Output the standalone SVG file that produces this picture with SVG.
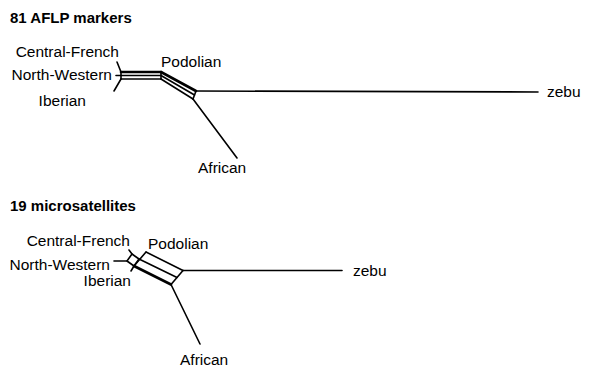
<svg xmlns="http://www.w3.org/2000/svg" width="609" height="369" viewBox="0 0 609 369">
<style>
text{font-family:"Liberation Sans",Arial,sans-serif;font-size:15.5px;fill:#000}
.title{font-weight:bold;font-size:15px}
.r{text-anchor:end}
.e{stroke:#000;stroke-width:1.6;fill:none;stroke-linecap:round;stroke-linejoin:round}
.t{stroke:#000;stroke-width:2.6;fill:none;stroke-linecap:round}
</style>
<rect width="609" height="369" fill="#fff"/>
<g id="title-aflp"><text class="title" x="10" y="23">81 AFLP markers</text></g>
<g id="title-micro"><text class="title" x="10" y="211">19 microsatellites</text></g>

<g id="connectors-aflp">
  <line class="e" x1="117" y1="62" x2="121" y2="72"/>
  <line class="e" x1="116" y1="75.5" x2="121" y2="75.5"/>
  <line class="e" x1="121" y1="79" x2="114" y2="91"/>
  <line class="e" x1="121" y1="72" x2="121" y2="79"/>
  <line class="t" x1="121" y1="72" x2="161" y2="72"/>
  <line class="e" x1="121" y1="75.5" x2="161" y2="75.5"/>
  <line class="e" x1="121" y1="79" x2="161" y2="79"/>
  <line class="e" x1="161" y1="72" x2="161" y2="79"/>
  <line class="t" x1="161" y1="72" x2="196" y2="91"/>
  <line class="e" x1="161" y1="75.5" x2="194.5" y2="95"/>
  <line class="e" x1="161" y1="79" x2="193" y2="99"/>
  <line class="e" x1="196" y1="91" x2="193" y2="99"/>
  <line class="e" x1="196" y1="91" x2="538" y2="92"/>
  <line class="e" x1="193" y1="99" x2="237" y2="158"/>
</g>

<g id="connectors-micro">
  <line class="e" x1="114" y1="261" x2="127" y2="261"/>
  <line class="e" x1="132" y1="254" x2="129" y2="250"/>
  <line class="e" x1="134" y1="266" x2="131" y2="271"/>
  <polygon class="e" points="127,261 132,254 139,259 134,266"/>
  <line class="e" x1="146" y1="252" x2="134" y2="266"/>
  <line class="e" x1="146" y1="252" x2="183" y2="270.5"/>
  <line class="e" x1="139" y1="259" x2="177" y2="277.5"/>
  <line class="t" x1="134" y1="266" x2="171" y2="284.5"/>
  <line class="e" x1="183" y1="270.5" x2="171" y2="284.5"/>
  <line class="e" x1="183" y1="270.5" x2="342" y2="270.5"/>
  <line class="e" x1="171" y1="284.5" x2="200" y2="344"/>
</g>

<g id="node-aflp-central-french"><text class="r" x="119" y="57">Central-French</text></g>
<g id="node-aflp-north-western"><text class="r" x="112" y="80">North-Western</text></g>
<g id="node-aflp-iberian"><text class="r" x="86" y="106">Iberian</text></g>
<g id="node-aflp-podolian"><text x="161" y="67">Podolian</text></g>
<g id="node-aflp-zebu"><text x="547" y="97">zebu</text></g>
<g id="node-aflp-african"><text x="198" y="173">African</text></g>

<g id="node-micro-central-french"><text class="r" x="130" y="246">Central-French</text></g>
<g id="node-micro-north-western"><text class="r" x="110" y="270">North-Western</text></g>
<g id="node-micro-iberian"><text class="r" x="131" y="286">Iberian</text></g>
<g id="node-micro-podolian"><text x="148" y="249">Podolian</text></g>
<g id="node-micro-zebu"><text x="353" y="276">zebu</text></g>
<g id="node-micro-african"><text x="180" y="365">African</text></g>
</svg>
